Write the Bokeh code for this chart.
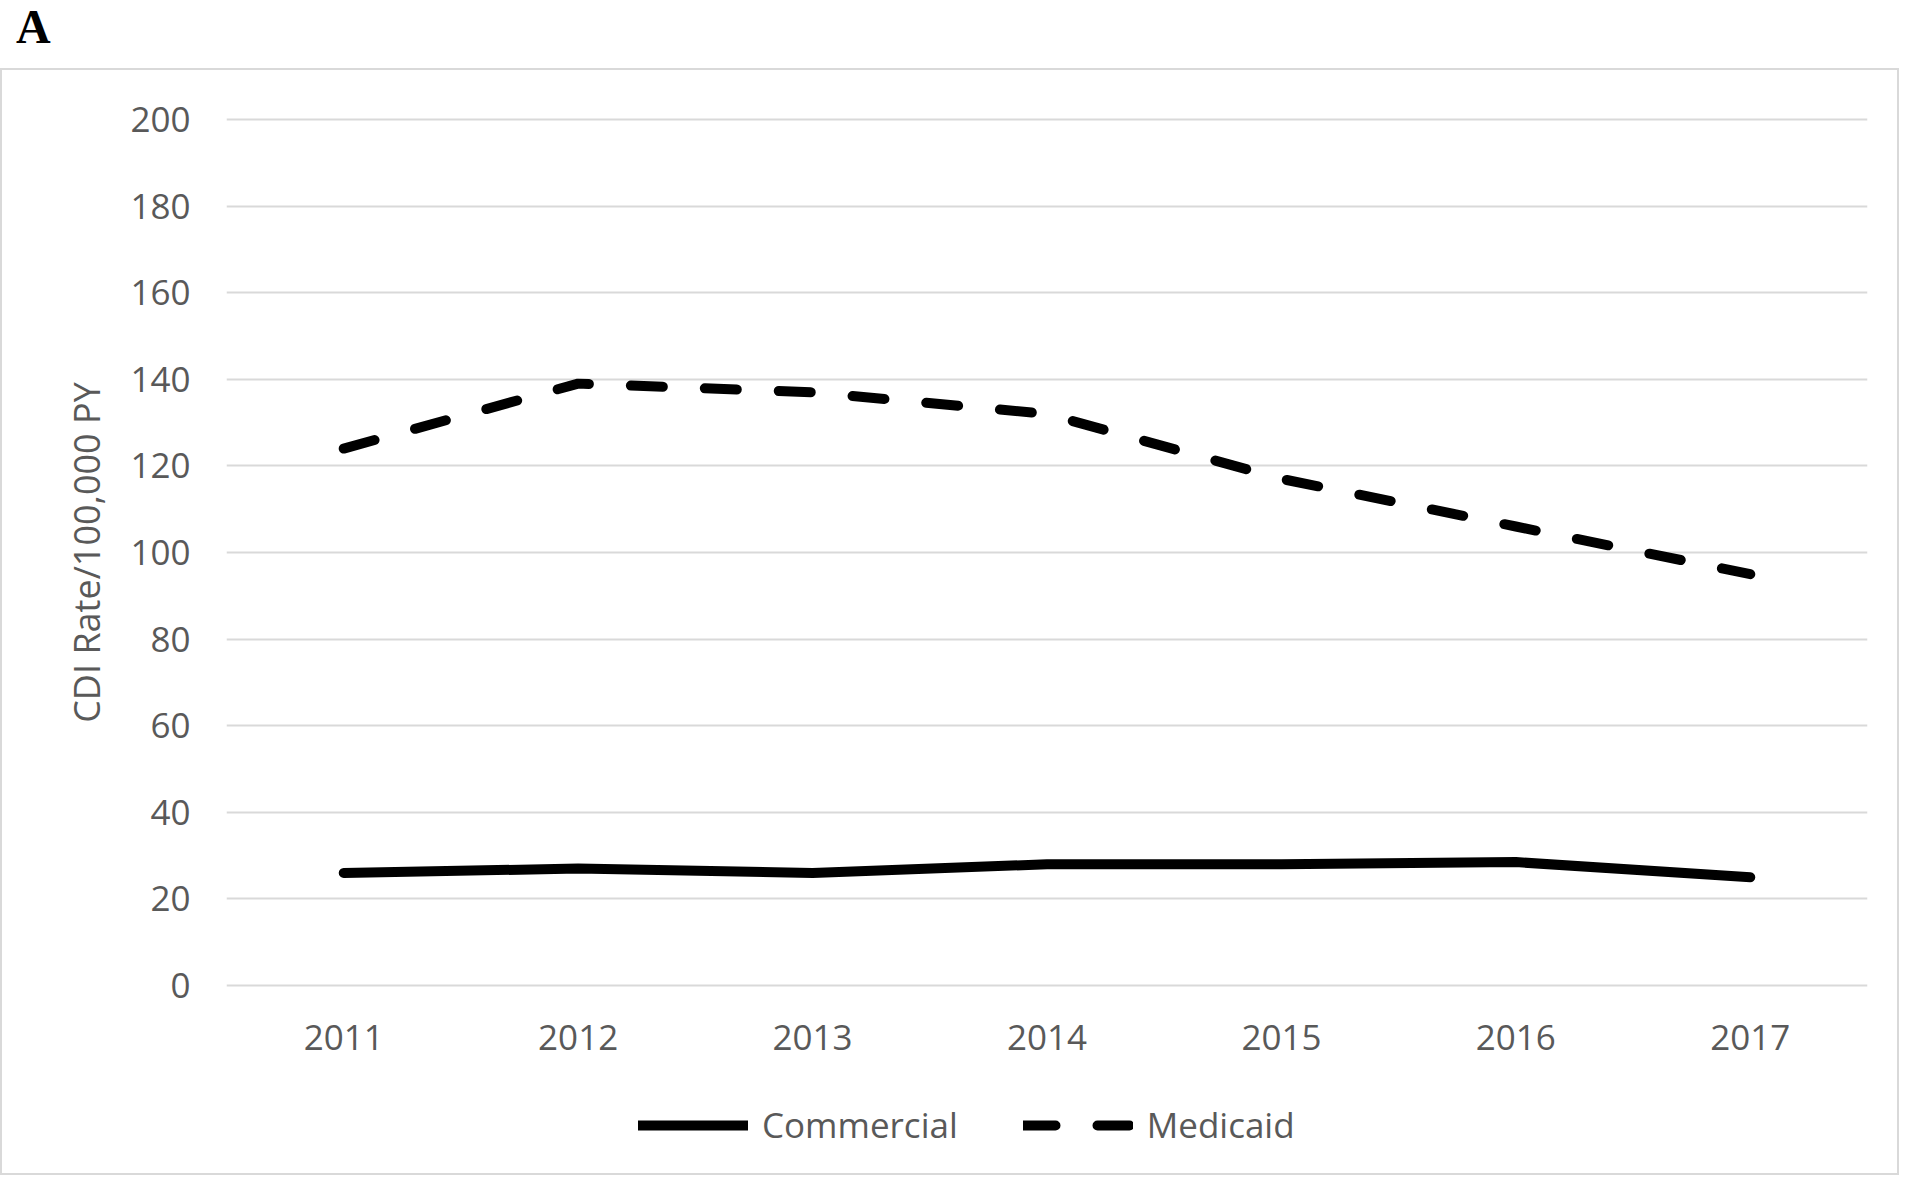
from bokeh.plotting import figure
from bokeh.layouts import column
from bokeh.models import Range1d, FactorRange, Legend, FixedTicker, Label
from bokeh.embed import file_html
from bokeh.resources import INLINE

# ---- data ----
years = ["2011", "2012", "2013", "2014", "2015", "2016", "2017"]
commercial = [26, 27, 26, 28, 28, 28.5, 25]
medicaid = [124, 139, 137, 132, 117, 106, 95]
y_ticks = [0, 20, 40, 60, 80, 100, 120, 140, 160, 180, 200]
series_names = ["Commercial", "Medicaid"]

FONT = "Open Sans"
TEXT = "#595959"
GRID = "#d9d9d9"
BORDER = "2px solid #d9d9d9"
NAN = float("nan")

# ---- panel label "A" (above the chart-area border) ----
head = figure(width=1903, height=68, output_backend="svg", toolbar_location=None,
              x_axis_location=None, y_axis_location=None, title=None,
              min_border_left=0, min_border_right=0, min_border_top=0,
              min_border_bottom=0, frame_align=False)
head.outline_line_color = None
head.grid.visible = False
head.add_layout(Label(x=15.5, y=42.5, x_units="screen", y_units="screen", text="A",
                      text_font="Liberation Serif", text_font_style="bold",
                      text_font_size="48px", text_color="black",
                      text_baseline="alphabetic", text_align="left"))

# ---- main chart ----
p = figure(width=1899, height=1010,
           x_range=FactorRange(*years), y_range=Range1d(-0.46, 200.46),
           output_backend="svg", toolbar_location=None,
           min_border_left=224, min_border_right=34,
           min_border_top=47, min_border_bottom=93, frame_align=False,
           background_fill_color="white", border_fill_color="white",
           styles={"border-top": BORDER, "border-left": BORDER,
                   "border-right": BORDER})
p.outline_line_color = None

p.xgrid.visible = False
p.ygrid.ticker = FixedTicker(ticks=y_ticks)
p.ygrid.grid_line_color = GRID
p.ygrid.grid_line_width = 2

p.yaxis.ticker = FixedTicker(ticks=y_ticks)
for ax in (p.xaxis[0], p.yaxis[0]):
    ax.axis_line_color = None
    ax.major_tick_line_color = None
    ax.minor_tick_line_color = None
    ax.major_tick_out = 0
    ax.major_tick_in = 0
    ax.major_label_text_font = FONT
    ax.major_label_text_font_size = "35px"
    ax.major_label_text_color = TEXT
p.yaxis.major_label_standoff = 36
p.xaxis.major_label_standoff = 37
p.yaxis.axis_label = "CDI Rate/100,000 PY"
p.yaxis.axis_label_text_font = FONT
p.yaxis.axis_label_text_font_size = "36px"
p.yaxis.axis_label_text_font_style = "normal"
p.yaxis.axis_label_text_color = TEXT
p.yaxis.axis_label_standoff = 16

solid = dict(line_color="black", line_width=10, line_cap="round", line_join="round")
dashed = dict(solid, line_dash="32 42")
p.line(years, commercial, **solid)
p.line(years, medicaid, **dashed)

# ---- legend strip (bottom of the chart-area border) ----
legfig = figure(width=1899, height=97, output_backend="svg", toolbar_location=None,
                x_axis_location=None, y_axis_location=None, title=None,
                x_range=Range1d(0, 1), y_range=Range1d(0, 1),
                min_border_left=0, min_border_right=0, min_border_top=0,
                min_border_bottom=0, frame_align=False,
                styles={"border-bottom": BORDER, "border-left": BORDER,
                        "border-right": BORDER})
legfig.outline_line_color = None
legfig.grid.visible = False
# legend keys only (a single undefined point draws nothing in the strip)
k1 = legfig.line(x=[NAN], y=[NAN], **solid)
k2 = legfig.line(x=[NAN], y=[NAN], **dashed)

legend = Legend(items=[(series_names[0], [k1]), (series_names[1], [k2])],
                location=(636, 27), orientation="horizontal",
                glyph_width=110, glyph_height=40, label_height=40,
                label_standoff=14, spacing=65, padding=0, margin=0,
                border_line_color=None, background_fill_alpha=0,
                inactive_fill_alpha=0,
                label_text_font=FONT, label_text_font_size="35px",
                label_text_color=TEXT)
legfig.add_layout(legend)

layout = column(head, p, legfig, spacing=0)
open("out.html", "w").write(file_html(layout, INLINE))
